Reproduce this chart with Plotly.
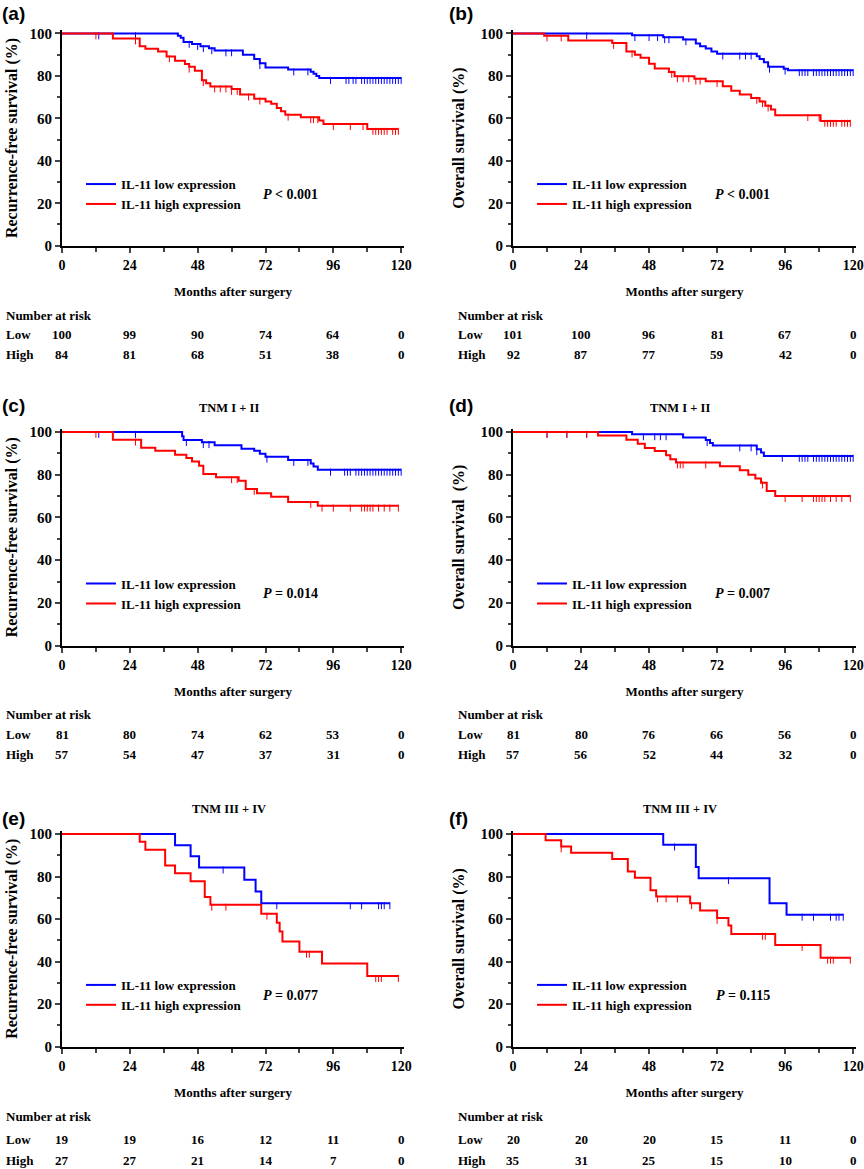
import plotly.graph_objects as go

# ---------------- data ----------------
month_ticks = [0, 24, 48, 72, 96, 120]

# (a) recurrence-free survival, all patients
a_low_t = [41, 42, 43, 46, 49, 52, 54, 64, 68, 70, 72, 80, 88, 89, 90, 91]
a_low_s = [99, 98, 96, 95, 94, 93, 92, 90, 88, 86, 84, 83, 82, 81, 80, 79]
a_low_c = [13, 26, 45, 48, 50, 53, 58, 60, 70, 82, 87, 95, 100.5, 101.5, 103, 104, 106, 107,
           108, 109, 110, 111, 112, 113, 114, 115, 116, 117, 118, 119, 120]
a_high_t = [18, 27.5, 29.5, 34, 37, 40, 43.5, 45, 47, 49.5, 51, 52.5, 60, 63, 68, 72, 74,
            76, 77.5, 79, 84.5, 91, 92.5, 108]
a_high_s = [97.6, 94, 92.8, 91.5, 89.2, 87.2, 85.6, 84.3, 82.5, 78, 76.5, 75, 73.8, 71.2,
            69.3, 68, 66.9, 64.9, 63.4, 61.7, 60.5, 59, 57.3, 55]
a_high_c = [12, 26, 38, 45, 50, 54, 56, 58, 60, 62, 66, 70, 80, 88, 89, 90.5, 96, 102, 106.5,
            110, 111, 112, 113, 114, 115, 117, 118, 119]
a_low_risk = [100, 99, 90, 74, 64, 0]
a_high_risk = [84, 81, 68, 51, 38, 0]

# (b) overall survival, all patients
b_low_t = [42, 53, 60, 64.5, 66, 68, 70, 72, 86, 87, 88.5, 90, 95.5, 97]
b_low_s = [99.2, 98.2, 97.2, 95.3, 94, 92.9, 91.5, 90.5, 89.3, 88, 86.5, 84.3, 83.4, 82.7]
b_low_c = [26, 43, 48, 51, 53.5, 55, 61, 74, 80, 82, 84, 90.5, 96, 101, 102, 103, 104, 106,
           107, 108, 109, 110, 111, 112, 113, 114, 115, 116, 117, 118, 119, 120]
b_high_t = [11, 19.5, 35, 40, 43, 45, 48, 50, 55, 57, 64, 68, 74, 77, 80, 84, 87, 89, 91,
            92.5, 108.5]
b_high_s = [99, 96.7, 95.5, 91.5, 90, 88.6, 85.8, 83.5, 81.9, 79.8, 78.7, 77.5, 75.1, 73,
            71.2, 69.6, 68, 66, 64.2, 61.5, 58.8]
b_high_c = [12, 17, 35.5, 42, 56, 58, 60, 62, 64.5, 66, 72, 86, 88, 90, 104, 108, 110, 111,
            112, 113, 114, 116, 117, 118, 119]
b_low_risk = [101, 100, 96, 81, 67, 0]
b_high_risk = [92, 87, 77, 59, 42, 0]

# (c) recurrence-free survival, TNM I + II
c_low_t = [42.5, 43, 49.5, 54, 63.5, 68, 70, 72, 80, 88, 89, 90.5]
c_low_s = [98, 96.2, 95.2, 93.8, 92.2, 91.2, 89.8, 88.4, 86.9, 85.3, 83.8, 82.3]
c_low_c = [13, 26, 44, 50, 52, 72.5, 82, 87, 95, 100, 101, 102, 104, 105, 106, 107, 108,
           109, 110, 111, 112, 113, 114, 115, 116, 117, 118, 119, 120]
c_high_t = [18, 28, 33, 40, 44, 46, 48.5, 50, 54.5, 62.5, 65, 69, 74, 80, 90.5]
c_high_s = [96.4, 92.6, 91.2, 89.4, 87.8, 86.2, 84.2, 80.4, 78.8, 77.2, 73.3, 71.3, 69.7,
            67.2, 65.5]
c_high_c = [12, 26, 60, 62, 68, 88, 92, 96, 102, 106, 107, 108, 109, 110, 112, 114, 116, 119]
c_low_risk = [81, 80, 74, 62, 53, 0]
c_high_risk = [57, 54, 47, 37, 31, 0]

# (d) overall survival, TNM I + II
d_low_t = [42, 60, 68, 69.5, 70.5, 86, 87.5, 88.5]
d_low_s = [98.9, 97.4, 96.2, 94.8, 93.7, 91.9, 90.4, 88.8]
d_low_c = [12, 19, 26, 46, 50, 52, 54, 68.5, 80, 84, 86, 95, 101, 102, 103, 104, 106, 107,
           108, 109, 110, 111, 112, 113, 114, 115, 116, 117, 118, 119, 120]
d_high_t = [30, 40, 44, 46.5, 50, 54, 55.5, 57.5, 73, 80, 83, 85.5, 87.5, 89.5, 92.5]
d_high_s = [98.4, 96.4, 94.5, 92.5, 91.1, 89.1, 87.3, 85.7, 84, 82.1, 80, 78.2, 76.3, 72.4, 70]
d_high_c = [12, 19, 26, 58, 59, 60, 68, 88, 96, 102, 106, 107, 108, 109, 110, 112, 114, 116, 119]
d_low_risk = [81, 80, 76, 66, 56, 0]
d_high_risk = [57, 56, 52, 44, 32, 0]

# (e) recurrence-free survival, TNM III + IV
e_low_t = [40, 45.5, 48.5, 64.5, 68.5, 70.5]
e_low_s = [94.7, 89.5, 84.2, 78.5, 73, 67.4]
e_low_c = [57, 76, 102, 106, 112, 113, 114, 116]
e_high_t = [27.5, 29.5, 36.5, 40, 45.5, 50.5, 52.5, 70.5, 76, 77, 78, 84, 92, 108]
e_high_s = [96.3, 92.6, 85.2, 81.5, 77.8, 70.4, 66.7, 62.5, 58.3, 54.2, 49.5, 44.6, 39.1, 33.2]
e_high_c = [53, 58, 72.5, 86.5, 87.5, 111, 112, 113, 119]
e_low_risk = [19, 19, 16, 12, 11, 0]
e_high_risk = [27, 27, 21, 14, 7, 0]

# (f) overall survival, TNM III + IV
f_low_t = [53, 64.5, 65.5, 90.5, 96.5]
f_low_s = [95, 84.5, 79.2, 67.4, 62]
f_low_c = [57, 76, 102, 106, 112, 114, 115, 116.5]
f_high_t = [11.5, 17, 20.5, 35, 40.5, 43, 48.5, 50.5, 62.5, 66, 72, 76, 77, 92.5, 108.5]
f_high_s = [97.1, 94.1, 91.2, 88.2, 82.4, 79.4, 73.5, 70.6, 67.4, 64, 60.5, 57, 53, 47.8, 41.8]
f_high_c = [17, 51, 54, 58, 63, 72, 88, 89, 102, 111, 112, 113, 119]
f_low_risk = [20, 20, 20, 15, 11, 0]
f_high_risk = [35, 31, 25, 15, 10, 0]

panel_letters = ['(a)', '(b)', '(c)', '(d)', '(e)', '(f)']
panel_titles = ['', '', 'TNM I + II', 'TNM I + II', 'TNM III + IV', 'TNM III + IV']
p_values = ['<i>P</i> &lt; 0.001', '<i>P</i> &lt; 0.001', '<i>P</i> = 0.014',
            '<i>P</i> = 0.007', '<i>P</i> = 0.077', '<i>P</i> = 0.115']
y_titles = ['Recurrence-free survival (%)', 'Overall survival (%)',
            'Recurrence-free survival (%)', 'Overall survival  (%)',
            'Recurrence-free survival (%)', 'Overall survival (%)']
low_name = 'IL-11 low expression'
high_name = 'IL-11 high expression'

panels = [
    (a_low_t, a_low_s, a_low_c, a_high_t, a_high_s, a_high_c, a_low_risk, a_high_risk),
    (b_low_t, b_low_s, b_low_c, b_high_t, b_high_s, b_high_c, b_low_risk, b_high_risk),
    (c_low_t, c_low_s, c_low_c, c_high_t, c_high_s, c_high_c, c_low_risk, c_high_risk),
    (d_low_t, d_low_s, d_low_c, d_high_t, d_high_s, d_high_c, d_low_risk, d_high_risk),
    (e_low_t, e_low_s, e_low_c, e_high_t, e_high_s, e_high_c, e_low_risk, e_high_risk),
    (f_low_t, f_low_s, f_low_c, f_high_t, f_high_s, f_high_c, f_low_risk, f_high_risk),
]

# ---------------- layout geometry (pixels) ----------------
W, H = 864, 1169
col_x0 = [62, 513]
col_x1 = [404, 856]
row_y0 = [245.7, 645.7, 1046.7]     # pixel of 0 %
row_y100 = [33.5, 432, 834]         # pixel of 100 %
row_table = [(315, 334, 354), (714, 734, 754), (1116, 1139, 1160)]
row_title = [None, 408, 809]
row_letter = [14, 405, 818]
text_left = [4, 456]
YMAX = 101.5
TICK_DROP = 1.1   # censor ticks hang just below the curve

SERIF = 'Liberation Serif, Times New Roman, serif'
SANS = 'Liberation Sans, Arial, sans-serif'
BLUE = '#0000ff'
RED = '#ff0000'


def py(px):
    return 1 - px / H


def surv_at(t, times, surv):
    s = 100
    for ti, si in zip(times, surv):
        if ti <= t:
            s = si
    return s


fig = go.Figure()
annotations = []
layout = dict(
    width=W, height=H, margin=dict(l=0, r=0, t=0, b=0, autoexpand=False),
    paper_bgcolor='white', plot_bgcolor='white',
    font=dict(family=SERIF, size=13, color='black', weight='bold'),
)

for i, (lt, ls, lc, ht, hs, hc, lrisk, hrisk) in enumerate(panels):
    n = i + 1
    col, row = i % 2, i // 2
    xa, ya = f'x{n}', f'y{n}'
    leg = 'legend' if n == 1 else f'legend{n}'

    for times, surv, cens, color, name in [(lt, ls, lc, BLUE, low_name),
                                           (ht, hs, hc, RED, high_name)]:
        end = max(cens)
        fig.add_trace(go.Scatter(
            x=[0] + times + [end], y=[100] + surv + [surv[-1]],
            mode='lines', line=dict(shape='hv', color=color, width=2),
            name=name, xaxis=xa, yaxis=ya, legend=leg, hoverinfo='skip'))
        fig.add_trace(go.Scatter(
            x=cens, y=[surv_at(t, times, surv) - TICK_DROP for t in cens],
            mode='markers', showlegend=False, xaxis=xa, yaxis=ya, hoverinfo='skip',
            marker=dict(symbol='line-ns', size=5, line=dict(color=color, width=1))))

    y0, y100 = row_y0[row], row_y100[row]
    ppu = (y0 - y100) / 100
    ytop = y0 - YMAX * ppu

    layout[f'xaxis{n}'] = dict(
        domain=[col_x0[col] / W, col_x1[col] / W], range=[0, 121], anchor=ya,
        automargin=False, ticklabeloverflow='allow',
        tickmode='linear', tick0=0, dtick=24, ticks='outside', ticklen=5, tickwidth=1.5,
        minor=dict(tick0=0, dtick=12, ticks='outside', ticklen=4, tickwidth=1.5),
        showline=True, linewidth=2, linecolor='black', showgrid=False, zeroline=False,
        tickfont=dict(family=SERIF, size=14, weight='bold'),
        title=dict(text='Months after surgery', standoff=15,
                   font=dict(family=SERIF, size=13, weight='bold')))
    layout[f'yaxis{n}'] = dict(
        domain=[py(y0), py(ytop)], range=[0, YMAX], anchor=xa,
        automargin=False, ticklabeloverflow='allow',
        tickmode='linear', tick0=0, dtick=20, ticks='outside', ticklen=5, tickwidth=1.5,
        minor=dict(tick0=0, dtick=10, ticks='outside', ticklen=3, tickwidth=1.5),
        showline=True, linewidth=2, linecolor='black', showgrid=False, zeroline=False,
        tickfont=dict(family=SERIF, size=15, weight='bold'),
        title=dict(text=y_titles[i], standoff=8 if col == 0 else 12,
                   font=dict(family=SERIF, size=16, weight='bold')))

    # legend inside the plot
    leg_top = y0 - 29.5 * ppu - 14
    layout[leg] = dict(
        x=(col_x0[col] + 19) / W, y=py(leg_top), xanchor='left', yanchor='top',
        bgcolor='rgba(0,0,0,0)', itemwidth=30, tracegroupgap=0,
        font=dict(family=SERIF, size=13, weight='bold'))

    # p-value
    annotations.append(dict(x=81, y=24.3, xref=xa, yref=ya, text=p_values[i],
                            yanchor='middle', showarrow=False,
                            font=dict(family=SERIF, size=14, weight='bold')))
    # panel letter
    annotations.append(dict(x=(0 if col == 0 else 447) / W, y=py(row_letter[row]),
                            xref='paper', yref='paper', xanchor='left', yanchor='middle',
                            text=panel_letters[i], showarrow=False,
                            font=dict(family=SANS, size=19, weight='bold')))
    # subgroup title
    if panel_titles[i]:
        annotations.append(dict(x=59, y=py(row_title[row]), xref=xa, yref='paper',
                                yanchor='middle', text=panel_titles[i], showarrow=False,
                                font=dict(family=SERIF, size=12.5, weight='bold')))
    # number at risk table
    nar_y, low_y, high_y = row_table[row]
    annotations.append(dict(x=text_left[col] / W, y=py(nar_y), xref='paper', yref='paper',
                            xanchor='left', yanchor='middle', text='Number at risk',
                            showarrow=False))
    for label, yy, risk in [('Low', low_y, lrisk), ('High', high_y, hrisk)]:
        annotations.append(dict(x=text_left[col] / W, y=py(yy), xref='paper', yref='paper',
                                xanchor='left', yanchor='middle', text=label,
                                showarrow=False))
        for m, v in zip(month_ticks, risk):
            annotations.append(dict(x=m, y=py(yy), xref=xa, yref='paper',
                                    yanchor='middle', text=str(v), showarrow=False))

layout['annotations'] = annotations
fig.update_layout(**layout)
fig.write_html('out.html', config={'displayModeBar': False},
               post_script="document.body.style.margin='0';document.body.style.overflow='hidden';")
